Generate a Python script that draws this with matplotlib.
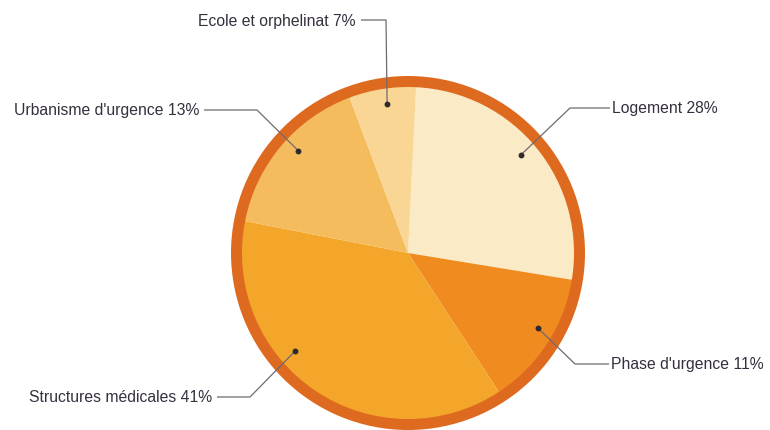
import matplotlib.pyplot as plt
import numpy as np

plt.rcParams["font.family"] = ["Liberation Sans", "DejaVu Sans"]

# shares as drawn in the picture (clockwise from near the top)
categories = ["Logement", "Phase d'urgence", "Structures médicales",
              "Urbanisme d'urgence", "Ecole et orphelinat"]
printed_pct = [28, 11, 41, 13, 7]
drawn_share = [26.8, 13.2, 37.3, 16.2, 6.5]
colors = ["#FBEAC6", "#F08C1F", "#F4A62B", "#F5BC5E", "#FAD695"]
ring_color = "#DE6A20"
text_color = "#352F3E"

W, H = 770, 431
cx, cy = 408, H - 254
r_pie, r_ring = 166, 177
start = 87.2  # degrees, counterclock=False

fig = plt.figure(figsize=(W / 100, H / 100), dpi=100)
ax = fig.add_axes([0, 0, 1, 1])
ax.set_xlim(0, W)
ax.set_ylim(0, H)
ax.set_aspect("equal")
ax.axis("off")

ax.pie([1], radius=r_ring, center=(cx, cy), colors=[ring_color],
       wedgeprops=dict(width=r_ring - r_pie + 1, linewidth=0))
wedges, _ = ax.pie(drawn_share, radius=r_pie, center=(cx, cy), colors=colors,
                   startangle=start, counterclock=False,
                   wedgeprops=dict(linewidth=0))
ax.set_xlim(0, W)
ax.set_ylim(0, H)

# annotation layout: dot angle (deg clockwise from top), elbow point, label side
dot_angle = [49, 120, 229, 313, 352]
dot_r = 150
elbows = [(570, H - 109), (575, H - 365), (250, H - 398), (257, H - 111), (386, H - 21)]
line_end = [610, 609, 217, 204, 361]
ha = ["left", "left", "right", "right", "right"]

for cat, pct, ang, el, le, h in zip(categories, printed_pct, dot_angle, elbows, line_end, ha):
    t = np.deg2rad(ang)
    dx, dy = cx + dot_r * np.sin(t), cy + dot_r * np.cos(t)
    ax.plot([dx, el[0], le], [dy, el[1], el[1]], color="#6E6A70", lw=0.9,
            solid_capstyle="butt", zorder=3)
    ax.plot(dx, dy, "o", color="#2E2A30", ms=3.2, zorder=4)
    tx = le + 2 if h == "left" else le - 5
    ax.text(tx, el[1], f"{cat} {pct}%", ha=h, va="center", fontsize=11.3,
            color=text_color, zorder=4)

fig.savefig("out.png", dpi=100, facecolor="white")
